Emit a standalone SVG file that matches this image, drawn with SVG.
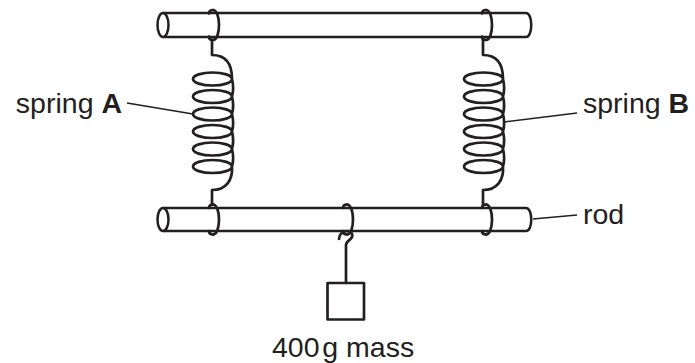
<svg xmlns="http://www.w3.org/2000/svg" width="695" height="363" viewBox="0 0 695 363">
<style>
.s{fill:none;stroke:#231f20;stroke-width:2.7;stroke-linejoin:round;stroke-linecap:round}
.w{fill:#fff;stroke:#231f20;stroke-width:2.5}
.l{fill:none;stroke:#231f20;stroke-width:1.3}
text{font-family:"Liberation Sans",Arial,Helvetica,sans-serif;font-size:28.5px;fill:#231f20}
.b{font-weight:bold}
</style>
<defs>
<path id="coil" class="s" d="M212,40 L212,55 C226,55 232,64 232,79 A19.5,6.5 0 1,0 193,79 A19.5,6.5 0 1,0 232,79 C233.5,85 233.5,91 232,96.5 A19.5,6.5 0 1,0 193,96.5 A19.5,6.5 0 1,0 232,96.5 C233.5,102.5 233.5,108.5 232,114 A19.5,6.5 0 1,0 193,114 A19.5,6.5 0 1,0 232,114 C233.5,120 233.5,126 232,131.5 A19.5,6.5 0 1,0 193,131.5 A19.5,6.5 0 1,0 232,131.5 C233.5,137.5 233.5,143.5 232,149 A19.5,6.5 0 1,0 193,149 A19.5,6.5 0 1,0 232,149 C233.5,155 233.5,161 232,166.5 A19.5,6.5 0 1,0 193,166.5 A19.5,6.5 0 1,0 232,166.5 C233,180 226,190 212,190 L212,205"/>
<g id="ring" class="s">
<path d="M0,-15 C8,-15 8,15 0,15"/>
<path d="M0,-15 C-3,-15 -4,-13 -4,-11.5 M-4,11.5 C-4,13 -3,15 0,15"/>
</g>
</defs>
<g id="top-rod">
<path class="w" d="M163,13 L526,13 C533,13 533,37 526,37 L163,37"/>
<ellipse class="w" cx="163" cy="25" rx="5.5" ry="12"/>
<use href="#ring" x="213" y="25"/>
<use href="#ring" x="486" y="25"/>
</g>
<g id="spring-A">
<use href="#coil"/>
</g>
<g id="spring-B">
<use href="#coil" transform="translate(271,0)"/>
</g>
<g id="bottom-rod">
<path class="w" d="M163,208 L526,208 C533,208 533,231 526,231 L163,231"/>
<ellipse class="w" cx="163" cy="219.5" rx="5.5" ry="11.5"/>
<use href="#ring" x="213" y="219.5"/>
<use href="#ring" x="347" y="219.5"/>
<use href="#ring" x="486" y="219.5"/>
</g>
<g id="mass">
<path class="s" d="M339,239 C339,234 343,231 347,231 C351,231 353,234 352,237 C351,240 346,241 346,245 L346,283"/>
<rect class="s" x="327.5" y="283" width="36.5" height="36.5" stroke-linecap="butt"/>
</g>
<g id="connectors">
<path class="l" d="M127,103 L193,114"/>
<path class="l" d="M504,122 L577,113"/>
<path class="l" d="M533,219 L577,215"/>
</g>
<g id="labels">
<text x="122" y="113" text-anchor="end">spring <tspan class="b">A</tspan></text>
<text x="583" y="113">spring <tspan class="b">B</tspan></text>
<text x="583" y="224">rod</text>
<text x="272" y="357">400<tspan font-size="10"> </tspan>g mass</text>
</g>
</svg>
